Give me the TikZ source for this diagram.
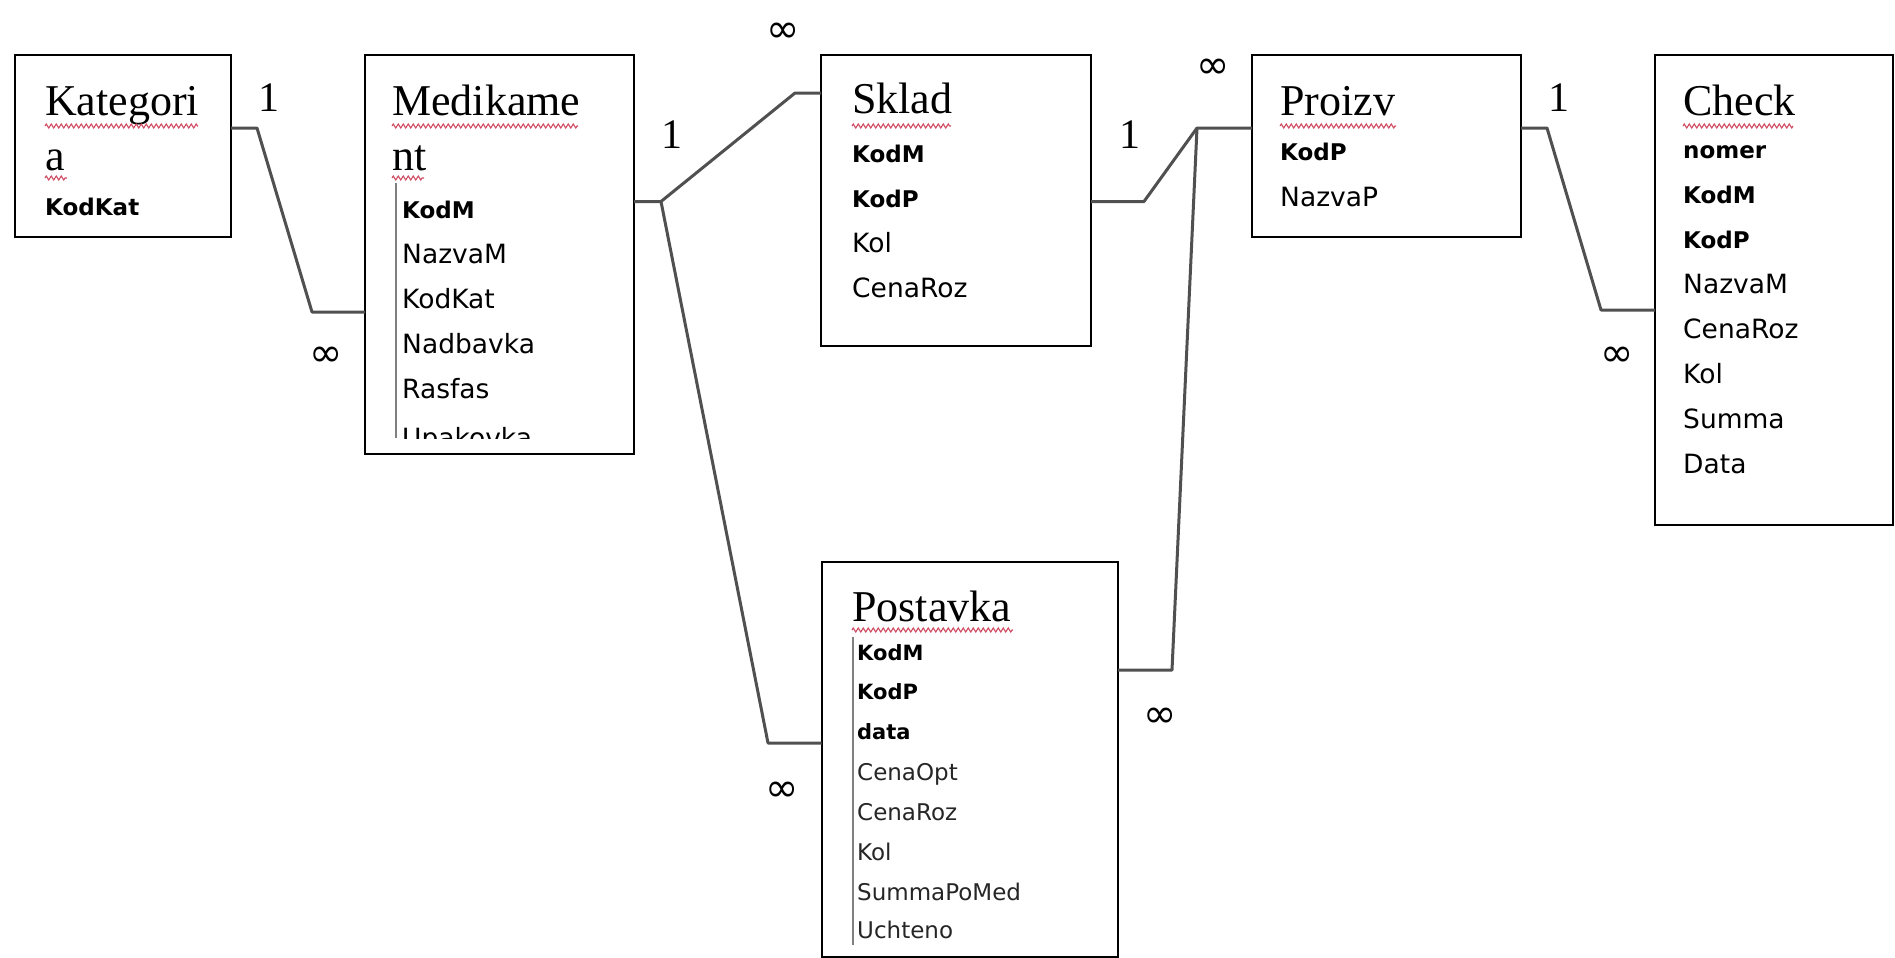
\documentclass[tikz,border=0pt]{standalone}
\usepackage{fontspec}
\setmainfont{Liberation Serif}
\newfontfamily\fieldfont{DejaVu Sans}
\usetikzlibrary{decorations.pathmorphing}
\definecolor{conncol}{HTML}{505050}
\definecolor{squig}{HTML}{D04A62}
\definecolor{rulecol}{HTML}{808080}
\tikzset{
  tbl/.style={draw=black, line width=2pt, inner sep=0pt, outer sep=0pt},
  ttl/.style={anchor=base west, inner sep=0pt, font=\fontsize{44}{44}\selectfont},
  fld/.style={anchor=base west, inner sep=0pt, font=\fieldfont\fontsize{26.5}{26.5}\selectfont},
  fldb/.style={anchor=base west, inner sep=0pt, font=\fieldfont\bfseries\fontsize{23}{23}\selectfont},
  sfld/.style={anchor=base west, inner sep=0pt, font=\fieldfont\fontsize{23}{23}\selectfont, text=black!85},
  sfldb/.style={anchor=base west, inner sep=0pt, font=\fieldfont\bfseries\fontsize{21}{21}\selectfont},
  onelbl/.style={inner sep=0pt, font=\fontsize{42}{42}\selectfont},
  manylbl/.style={inner sep=0pt, font=\fieldfont\fontsize{40}{40}\selectfont},
  conn/.style={draw=conncol, line width=3pt, line join=round},
  wavy/.style={draw=squig, line width=1.1pt, decorate, decoration={zigzag, amplitude=2pt, segment length=5pt}},
  listrule/.style={draw=rulecol, line width=1.5pt}
}
\begin{document}
\begin{tikzpicture}[x=1pt, y=-1pt]
\useasboundingbox[fill=white] (0,0) rectangle (1895,958);

% ---------- tables ----------
\node[tbl, minimum width=216.5pt, minimum height=181.5pt] (kat) at (122.75,146.25) {};
\node[tbl, minimum width=269pt, minimum height=398.5pt] (med) at (499.5,254.75) {};
\node[tbl, minimum width=270pt, minimum height=290pt] (skl) at (956,200.5) {};
\node[tbl, minimum width=269pt, minimum height=181.5pt] (pro) at (1386.5,146.25) {};
\node[tbl, minimum width=238pt, minimum height=469.5pt] (chk) at (1774,290.25) {};
\node[tbl, minimum width=296.5pt, minimum height=395.5pt] (pos) at (969.75,759.25) {};

% ---------- Kategoria ----------
\node[ttl] (katT1) at (45,115) {Kategori};
\node[ttl] (katT2) at (45,170) {a};
\draw[wavy] (45,126) -- (198,126);
\draw[wavy] (45,178) -- (67,178);
\node[fldb] (katF1) at (45,215) {KodKat};

% ---------- Medikament ----------
\node[ttl] (medT1) at (392,115) {Medikame};
\node[ttl] (medT2) at (392,170) {nt};
\draw[wavy] (392,126) -- (578,126);
\draw[wavy] (392,178) -- (424,178);
\draw[listrule] (396,183) -- (396,438);
\begin{scope}
\clip (366,183) rectangle (633,438);
\node[fldb] (medF1) at (402,218) {KodM};
\node[fld] (medF2) at (402,263) {NazvaM};
\node[fld] (medF3) at (402,308) {KodKat};
\node[fld] (medF4) at (402,353) {Nadbavka};
\node[fld] (medF5) at (402,398) {Rasfas};
\node[fld] (medF6) at (402,447) {Upakovka};
\end{scope}

% ---------- Sklad ----------
\node[ttl] (sklT) at (852,113) {Sklad};
\draw[wavy] (852,126) -- (951,126);
\node[fldb] (sklF1) at (852,162) {KodM};
\node[fldb] (sklF2) at (852,207) {KodP};
\node[fld] (sklF3) at (852,252) {Kol};
\node[fld] (sklF4) at (852,297) {CenaRoz};

% ---------- Proizv ----------
\node[ttl] (proT) at (1280,115) {Proizv};
\draw[wavy] (1280,126) -- (1396,126);
\node[fldb] (proF1) at (1280,160) {KodP};
\node[fld] (proF2) at (1280,206) {NazvaP};

% ---------- Check ----------
\node[ttl] (chkT) at (1683,115) {Check};
\draw[wavy] (1683,126) -- (1793,126);
\node[fldb] (chkF1) at (1683,158) {nomer};
\node[fldb] (chkF2) at (1683,203) {KodM};
\node[fldb] (chkF3) at (1683,248) {KodP};
\node[fld] (chkF4) at (1683,293) {NazvaM};
\node[fld] (chkF5) at (1683,338) {CenaRoz};
\node[fld] (chkF6) at (1683,383) {Kol};
\node[fld] (chkF7) at (1683,428) {Summa};
\node[fld] (chkF8) at (1683,473) {Data};

% ---------- Postavka ----------
\node[ttl] (posT) at (852,621) {Postavka};
\draw[wavy] (852,630) -- (1013,630);
\draw[listrule] (853,637) -- (853,945);
\node[sfldb] (posF1) at (857,660) {KodM};
\node[sfldb] (posF2) at (857,699) {KodP};
\node[sfldb] (posF3) at (857,739) {data};
\node[sfld] (posF4) at (857,780) {CenaOpt};
\node[sfld] (posF5) at (857,820) {CenaRoz};
\node[sfld] (posF6) at (857,860) {Kol};
\node[sfld] (posF7) at (857,900) {SummaPoMed};
\node[sfld] (posF8) at (857,938) {Uchteno};

% ---------- connector bend points ----------
\coordinate (k1) at (257,128);
\coordinate (k2) at (312,312);
\coordinate (m1) at (661,201.5);
\coordinate (m2) at (795,93);
\coordinate (m3) at (768,743);
\coordinate (s1) at (1144,201.5);
\coordinate (s2) at (1197,128);
\coordinate (s3) at (1172,670);
\coordinate (p1) at (1547,128);
\coordinate (p2) at (1601,310);

% ---------- connectors ----------
\draw[conn] (kat.east |- k1) -- (k1) -- (k2) -- (med.west |- k2);
\draw[conn] (med.east |- m1) -- (m1) -- (m2) -- (skl.west |- m2);
\draw[conn] (m1) -- (m3) -- (pos.west |- m3);
\draw[conn] (skl.east |- s1) -- (s1) -- (s2) -- (pro.west |- s2);
\draw[conn] (s2) -- (s3) -- (pos.east |- s3);
\draw[conn] (pro.east |- p1) -- (p1) -- (p2) -- (chk.west |- p2);

% ---------- cardinality labels ----------
\node[onelbl] (l1) at (269,98) {1};
\node[manylbl] (l2) at (326,357) {∞};
\node[onelbl] (l3) at (672,135) {1};
\node[manylbl] (l4) at (783,33) {∞};
\node[onelbl] (l5) at (1130,135) {1};
\node[manylbl] (l6) at (1213,69) {∞};
\node[onelbl] (l7) at (1559,98) {1};
\node[manylbl] (l8) at (1617,357) {∞};
\node[manylbl] (l9) at (782,792) {∞};
\node[manylbl] (l10) at (1160,718) {∞};
\end{tikzpicture}
\end{document}
